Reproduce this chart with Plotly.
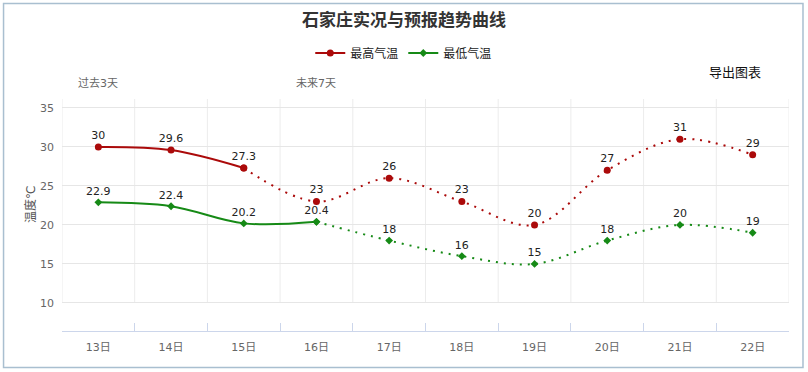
import plotly.graph_objects as go

days = ["13日", "14日", "15日", "16日", "17日", "18日", "19日", "20日", "21日", "22日"]
max_temp = [30, 29.6, 27.3, 23, 26, 23, 20, 27, 31, 29]
min_temp = [22.9, 22.4, 20.2, 20.4, 18, 16, 15, 18, 20, 19]
max_obs_count = 3   # solid (observed) points for max
min_obs_count = 4   # solid points for min
y_ticks = [10, 15, 20, 25, 30, 35]

RED = "#ab0a0a"
GREEN = "#168a16"
FONT = "DejaVu Sans, Noto Sans CJK SC, sans-serif"

W, H = 808, 372
L, R, T, B = 62, 18.5, 99, 41
pw, ph = W - L - R, H - T - B

def px_x(x):
    return (x - L) / pw

def px_y(y):
    return (H - B - y) / ph

fig = go.Figure()

def add_series(name, vals, n_solid, color, symbol, msize):
    xs = list(range(len(days)))
    fmt = [("%g" % v) for v in vals]
    fig.add_trace(go.Scatter(
        x=[days[i] for i in xs[:n_solid]], y=vals[:n_solid], name=name,
        mode="lines+markers+text", text=fmt[:n_solid], textposition="top center",
        textfont=dict(size=11, color="#222", family=FONT),
        line=dict(color=color, width=2, shape="spline"),
        marker=dict(color=color, size=msize, symbol=symbol),
        cliponaxis=False, legendgroup=name, showlegend=True))
    t2 = [""] + fmt[n_solid:]
    fig.add_trace(go.Scatter(
        x=[days[i] for i in xs[n_solid - 1:]], y=vals[n_solid - 1:], name=name,
        mode="lines+markers+text", text=t2, textposition="top center",
        textfont=dict(size=11, color="#222", family=FONT),
        line=dict(color=color, width=2, shape="spline", dash="2px,6px"),
        marker=dict(color=color, size=msize, symbol=symbol),
        cliponaxis=False, legendgroup=name, showlegend=False))

add_series("最高气温", max_temp, max_obs_count, RED, "circle", 7)
add_series("最低气温", min_temp, min_obs_count, GREEN, "diamond", 6)

y_lo, y_hi = 6.4, 36.15

shapes = []
for k in range(len(days) + 1):
    shapes.append(dict(type="line", xref="x", yref="y", x0=k - 0.5, x1=k - 0.5,
                       y0=10, y1=y_hi, line=dict(color="#ececec", width=1), layer="below"))
shapes.append(dict(type="rect", xref="paper", yref="paper",
                   x0=px_x(3.5), x1=px_x(803.5), y0=px_y(367.5), y1=px_y(3.5),
                   line=dict(color="#a9bfd0", width=1.5), layer="below"))

annotations = [
    dict(text="过去3天", xref="x", yref="paper", x=0, y=px_y(84), showarrow=False,
         font=dict(size=11, color="#666", family=FONT), xanchor="center", yanchor="middle"),
    dict(text="未来7天", xref="x", yref="paper", x=3, y=px_y(84), showarrow=False,
         font=dict(size=11, color="#666", family=FONT), xanchor="center", yanchor="middle"),
    dict(text="导出图表", xref="paper", yref="paper", x=px_x(735), y=px_y(72), showarrow=False,
         font=dict(size=13, color="#111", family=FONT), xanchor="center", yanchor="middle"),
    dict(text="温度℃", xref="paper", yref="paper", x=px_x(30), y=px_y(205), showarrow=False,
         textangle=-90, font=dict(size=12, color="#555", family=FONT),
         xanchor="center", yanchor="middle"),
]

fig.update_layout(
    width=W, height=H,
    margin=dict(l=L, r=R, t=T, b=B, pad=0),
    paper_bgcolor="white", plot_bgcolor="white",
    font=dict(family=FONT, color="#333"),
    title=dict(text="<b>石家庄实况与预报趋势曲线</b>", x=0.5, xanchor="center",
               y=1 - 20 / H, yanchor="middle", font=dict(size=17, color="#333", family=FONT)),
    legend=dict(orientation="h", x=(404 - L) / pw,
                xanchor="center", y=px_y(53), yanchor="middle",
                font=dict(size=12, color="#222", family=FONT), itemwidth=30,
                bgcolor="rgba(0,0,0,0)"),
    xaxis=dict(type="category", range=[-0.5, len(days) - 0.5], tickson="boundaries",
               ticks="inside", ticklen=8, tickcolor="#ccd6eb", showgrid=False,
               showline=True, linecolor="#ccd6eb", linewidth=1, zeroline=False,
               tickfont=dict(size=11, color="#666", family=FONT), ticklabelstandoff=6),
    yaxis=dict(range=[y_lo, y_hi], tickvals=y_ticks, showgrid=True, gridcolor="#e6e6e6",
               zeroline=False, showline=False, ticks="",
               tickfont=dict(size=11, color="#666", family=FONT), ticklabelstandoff=7),
    shapes=shapes, annotations=annotations,
)

fig.write_html("out.html", config={"displayModeBar": False},
               post_script="document.body.style.margin='0';")
